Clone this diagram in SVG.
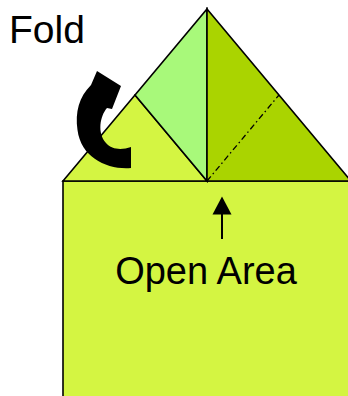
<svg xmlns="http://www.w3.org/2000/svg" width="348" height="396" viewBox="0 0 348 396">
<style>
.ln{stroke:#000;stroke-width:1.6;stroke-linejoin:miter}
.lbl{font-family:"Liberation Sans",Arial,sans-serif;fill:#000}
</style>
<rect width="348" height="396" fill="#fff"/>
<g id="body">
<rect x="63" y="181" width="300" height="230" fill="#D4F542" class="ln"/>
</g>
<g id="flap-left">
<polygon points="63,181 135,95 207,181" fill="#D4F542" class="ln"/>
</g>
<g id="flap-middle">
<polygon points="135,95 207,9 207,181" fill="#A8F97A" class="ln"/>
</g>
<g id="flap-right">
<polygon points="207,9 351,181 207,181" fill="#AAD400" class="ln"/>
<line x1="207" y1="181" x2="279" y2="95" stroke="#000" stroke-width="1.3" stroke-dasharray="6,3,1.5,3"/>
</g>
<g id="fold-label">
<text class="lbl" x="9" y="43" font-size="39">Fold</text>
</g>
<g id="fold-arrow">
<path d="M131,168 C108,170 81,158 77.5,130 C75,112 79,97 91,85 L97,71 L121,86 L112,109 L107,108 C100,116 97,133 106,143 C112,150 122,150 131,147 Z" fill="#000"/>
</g>
<g id="open-label">
<text class="lbl" x="206" y="284" font-size="38" text-anchor="middle">Open Area</text>
</g>
<g id="connectors">
<line x1="222" y1="239" x2="222" y2="206" stroke="#000" stroke-width="2"/>
<path d="M212.5,214.5 L222,196.5 L231.5,214.5 Z" fill="#000"/>
</g>
</svg>
